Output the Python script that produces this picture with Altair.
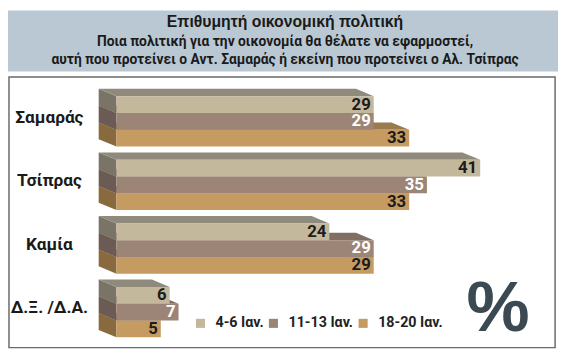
import altair as alt
import pandas as pd

# ---------------- data ----------------
categories = ["Σαμαράς", "Τσίπρας", "Καμία", "Δ.Ξ. /Δ.Α."]
series = ["4-6 Ιαν.", "11-13 Ιαν.", "18-20 Ιαν."]
values_4_6 = [29, 41, 24, 6]
values_11_13 = [29, 35, 29, 7]
values_18_20 = [33, 33, 29, 5]

title = "Επιθυμητή οικονομική πολιτική"
subtitle1 = "Ποια πολιτική για την οικονομία θα θέλατε να εφαρμοστεί,"
subtitle2 = "αυτή που προτείνει ο Αντ. Σαμαράς ή εκείνη που προτείνει ο Αλ. Τσίπρας"

front_colors = ["#c3b79c", "#9c8576", "#c59b61"]
top_colors = ["#8f8a7b", "#806d63", "#9a7b50"]
left_colors = ["#7a7466", "#6b5b54", "#896a3e"]
text_colors = ["#1c1c1c", "#ffffff", "#1c1c1c"]

# ---------------- layout ----------------
W, H = 562, 350
PX = 9.0          # pixels per percentage point
X0 = 110          # pixel where 0% lies
DX, DY = 18, 7.5  # 3D depth offset
BAR_H = 17
GROUP_TOP = 87
GROUP_STEP = 64.5
COND = "Roboto"

x_scale = alt.Scale(domain=[-X0 / PX, (W - X0) / PX], range=[0, W], nice=False, zero=False)
y_scale = alt.Scale(domain=[0, H], range=[0, H], nice=False, zero=False)

all_vals = [values_4_6, values_11_13, values_18_20]
bars, left_pts, top_pts = [], [], []
for i, cat in enumerate(categories):
    for j, s in enumerate(series):
        v = all_vals[j][i]
        top = GROUP_TOP + GROUP_STEP * i + BAR_H * j
        bid = f"{i}-{j}"
        bars.append(dict(bar=bid, cat=cat, series=s, j=j, v=v, zero=0,
                         top=top, bottom=top + BAR_H, ty=top + BAR_H - 3.5))
        left_pts.append(dict(bar=bid, j=j, x=-DX / PX, y=top - DY, y2=top + BAR_H - DY))
        left_pts.append(dict(bar=bid, j=j, x=0, y=top, y2=top + BAR_H))
        top_pts.append(dict(bar=bid, j=j, y=top - DY, x=-DX / PX, x2=v - DX / PX))
        top_pts.append(dict(bar=bid, j=j, y=top, x=0, x2=v))
bars_df = pd.DataFrame(bars)
left_df = pd.DataFrame(left_pts)
top_df = pd.DataFrame(top_pts)
cat_df = pd.DataFrame(dict(cat=categories,
                           ymid=[GROUP_TOP + GROUP_STEP * i + 1.5 * BAR_H - DY / 2
                                 for i in range(len(categories))]))

one = pd.DataFrame({"a": [0]})

# ---------------- frames ----------------
title_box = alt.Chart(one).mark_rect(color="#b9c8d3").encode(
    x=alt.value(0), x2=alt.value(558), y=alt.value(0), y2=alt.value(62))
frame = alt.Chart(one).mark_rect(fill="white", stroke="#6a6a6a", strokeWidth=1.5).encode(
    x=alt.value(1), x2=alt.value(555), y=alt.value(67.5), y2=alt.value(342))

def txt(s, x, y, size, font=COND, color="#1a1a1a", weight="bold", align="center", baseline="middle"):
    return alt.Chart(pd.DataFrame({"t": [s]})).mark_text(
        font=font, fontSize=size, fontWeight=weight, color=color, align=align, baseline=baseline
    ).encode(x=alt.value(x), y=alt.value(y), text="t:N")

title_layers = [
    txt(title, 281, 12, 16, font="Liberation Sans"),
    txt(subtitle1, 281, 32, 14),
    txt(subtitle2, 281, 50, 14),
]

# ---------------- bars ----------------
bar_layers = []
for j in [2, 1, 0]:
    left = alt.Chart(left_df).transform_filter(alt.datum.j == j).mark_area(
        orient="vertical", color=left_colors[j]
    ).encode(
        x=alt.X("x:Q", scale=x_scale, axis=None),
        y=alt.Y("y:Q", scale=y_scale, axis=None, stack=None),
        y2="y2:Q",
        detail="bar:N",
    )
    topf = alt.Chart(top_df).transform_filter(alt.datum.j == j).mark_area(
        orient="horizontal", color=top_colors[j]
    ).encode(
        y=alt.Y("y:Q", scale=y_scale, axis=None),
        x=alt.X("x:Q", scale=x_scale, axis=None, stack=None),
        x2="x2:Q",
        detail="bar:N",
    )
    front = alt.Chart(bars_df).transform_filter(alt.datum.j == j).mark_rect().encode(
        x=alt.X("zero:Q", scale=x_scale, axis=None),
        x2="v:Q",
        y=alt.Y("top:Q", scale=y_scale, axis=None),
        y2="bottom:Q",
        color=alt.Color("series:N", scale=alt.Scale(domain=series, range=front_colors),
                        legend=alt.Legend(orient="none", legendX=188, legendY=310,
                                          direction="horizontal", title=None,
                                          symbolType="square", symbolSize=85,
                                          symbolStrokeWidth=0, symbolOpacity=1,
                                          labelFont=COND, labelFontSize=14.5,
                                          labelFontWeight="bold", labelColor="#222",
                                          labelOffset=8, columnPadding=2, padding=0)),
    )
    bar_layers += [left, topf, front]

text_layers = []
for j in [0, 1, 2]:
    text_layers.append(
        alt.Chart(bars_df).transform_filter(alt.datum.j == j).mark_text(
            font=COND, fontSize=17, fontWeight="bold", align="right",
            baseline="alphabetic", dx=-3, color=text_colors[j]
        ).encode(
            x=alt.X("v:Q", scale=x_scale, axis=None),
            y=alt.Y("ty:Q", scale=y_scale, axis=None),
            text="v:Q",
        )
    )

cat_labels = alt.Chart(cat_df).mark_text(
    font=COND, fontSize=17.5, fontWeight="bold", color="#1a1a1a", align="center", baseline="middle"
).encode(
    x=alt.value(42),
    y=alt.Y("ymid:Q", scale=y_scale, axis=None),
    text="cat:N",
)

pct = txt("%", 497, 325, 72, font="Liberation Sans", color="#3b4953", baseline="alphabetic")

chart = alt.layer(
    title_box, frame, *title_layers, *bar_layers, *text_layers, cat_labels, pct
).properties(
    width=W, height=H, padding=0, autosize=alt.AutoSizeParams(type="none")
).configure_view(stroke=None)

chart.save("out.html", embed_options={"renderer": "svg", "actions": False})
